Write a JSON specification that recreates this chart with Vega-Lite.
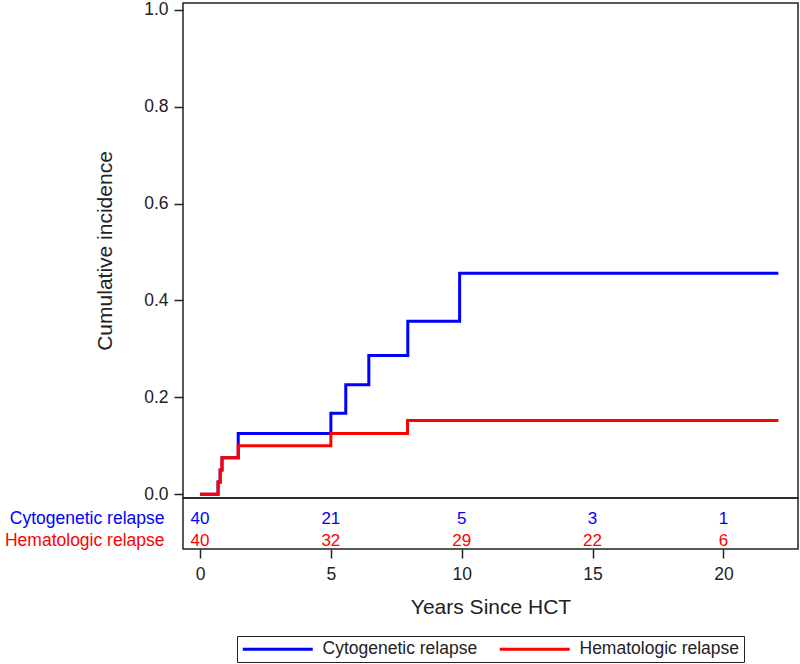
{
  "$schema": "https://vega.github.io/schema/vega-lite/v6.json",
  "background": "white",
  "padding": {"left": 3, "top": 0, "right": 2, "bottom": 0},
  "bounds": "flush",
  "config": {
    "font": "Liberation Sans",
    "view": {"stroke": "#222222", "strokeWidth": 1.5},
    "axis": {"grid": false, "domain": false, "tickColor": "#222222", "labelColor": "#222222", "titleColor": "#222222", "titleFontWeight": "normal", "labelFont": "Liberation Sans", "titleFont": "Liberation Sans"}
  },
  "datasets": {
    "curves": [
      {"group": "Cytogenetic relapse", "t": 0, "ci": 0},
      {"group": "Cytogenetic relapse", "t": 0.69, "ci": 0.025},
      {"group": "Cytogenetic relapse", "t": 0.77, "ci": 0.05},
      {"group": "Cytogenetic relapse", "t": 0.84, "ci": 0.075},
      {"group": "Cytogenetic relapse", "t": 1.46, "ci": 0.125},
      {"group": "Cytogenetic relapse", "t": 5.0, "ci": 0.167},
      {"group": "Cytogenetic relapse", "t": 5.57, "ci": 0.226},
      {"group": "Cytogenetic relapse", "t": 6.45, "ci": 0.286},
      {"group": "Cytogenetic relapse", "t": 7.94, "ci": 0.357},
      {"group": "Cytogenetic relapse", "t": 9.92, "ci": 0.456},
      {"group": "Cytogenetic relapse", "t": 22.1, "ci": 0.456},
      {"group": "Hematologic relapse", "t": 0, "ci": 0},
      {"group": "Hematologic relapse", "t": 0.69, "ci": 0.025},
      {"group": "Hematologic relapse", "t": 0.77, "ci": 0.05},
      {"group": "Hematologic relapse", "t": 0.84, "ci": 0.075},
      {"group": "Hematologic relapse", "t": 1.46, "ci": 0.1},
      {"group": "Hematologic relapse", "t": 5.0, "ci": 0.125},
      {"group": "Hematologic relapse", "t": 7.93, "ci": 0.152},
      {"group": "Hematologic relapse", "t": 22.1, "ci": 0.152}
    ],
    "risk": [
      {"group": "Cytogenetic relapse", "row": 1, "t": 0, "n": "40"},
      {"group": "Cytogenetic relapse", "row": 1, "t": 5, "n": "21"},
      {"group": "Cytogenetic relapse", "row": 1, "t": 10, "n": "5"},
      {"group": "Cytogenetic relapse", "row": 1, "t": 15, "n": "3"},
      {"group": "Cytogenetic relapse", "row": 1, "t": 20, "n": "1"},
      {"group": "Hematologic relapse", "row": 2, "t": 0, "n": "40"},
      {"group": "Hematologic relapse", "row": 2, "t": 5, "n": "32"},
      {"group": "Hematologic relapse", "row": 2, "t": 10, "n": "29"},
      {"group": "Hematologic relapse", "row": 2, "t": 15, "n": "22"},
      {"group": "Hematologic relapse", "row": 2, "t": 20, "n": "6"}
    ]
  },
  "spacing": 0,
  "vconcat": [
    {
      "width": 615,
      "height": 495,
      "data": {"name": "curves"},
      "mark": {"type": "line", "interpolate": "step-after", "strokeWidth": 3},
      "encoding": {
        "x": {"field": "t", "type": "quantitative", "scale": {"domain": [-0.65, 22.85], "nice": false, "zero": false}, "axis": null},
        "y": {"field": "ci", "type": "quantitative", "scale": {"domain": [-0.008, 1.014], "nice": false, "zero": false},
          "axis": {"values": [0, 0.2, 0.4, 0.6, 0.8, 1.0], "format": ".1f", "title": "Cumulative incidence", "tickSize": 9, "tickWidth": 1.5, "labelFontSize": 17.5, "labelPadding": 6, "titleFontSize": 21, "titlePadding": 28}},
        "color": {"field": "group", "type": "nominal",
          "scale": {"domain": ["Cytogenetic relapse", "Hematologic relapse"], "range": ["#0000ff", "#ff0000"]},
          "legend": {"orient": "none", "legendX": 54, "legendY": 633, "direction": "horizontal", "title": null,
            "symbolType": "M-1,0H9", "symbolSize": 196, "symbolStrokeWidth": 3, "symbolFillColor": "transparent",
            "labelFontSize": 17.5, "labelColor": "#222222", "strokeColor": "#222222", "padding": 4, "columnPadding": 15, "labelOffset": 64}}
      }
    },
    {
      "width": 615,
      "height": 51,
      "data": {"name": "risk"},
      "mark": {"type": "text", "fontSize": 17, "baseline": "middle", "align": "center"},
      "encoding": {
        "x": {"field": "t", "type": "quantitative", "scale": {"domain": [-0.65, 22.85], "nice": false, "zero": false},
          "axis": {"values": [0, 5, 10, 15, 20], "title": "Years Since HCT", "tickSize": 9, "tickWidth": 1.5, "labelFontSize": 17.5, "labelPadding": 7, "titleFontSize": 21, "titlePadding": 14}},
        "y": {"field": "row", "type": "quantitative", "scale": {"domain": [0.0455, 2.364], "reverse": true, "nice": false, "zero": false},
          "axis": {"values": [1, 2], "title": null, "ticks": false, "labelPadding": 19, "labelFontSize": 17.5,
            "labelExpr": "datum.value == 1 ? 'Cytogenetic relapse' : 'Hematologic relapse'",
            "labelColor": {"expr": "datum.value == 1 ? '#0000ff' : '#ff0000'"}}},
        "text": {"field": "n"},
        "color": {"field": "group", "type": "nominal"}
      }
    }
  ]
}
